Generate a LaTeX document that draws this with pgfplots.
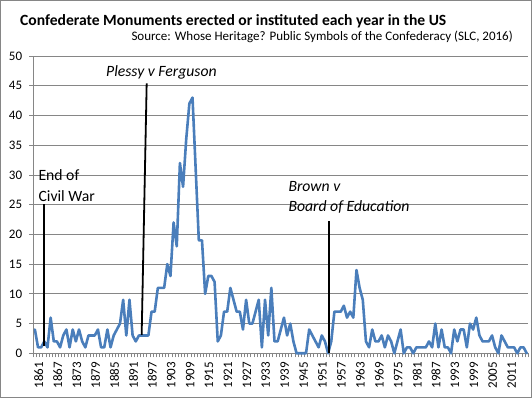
\documentclass[border=0pt]{standalone}
\usepackage{fontspec}
\setmainfont{Carlito}
\usepackage{pgfplots}
\usepackage{pgfplotstable}
\pgfplotsset{compat=1.18}
\definecolor{exblue}{HTML}{4A7EBB}
\definecolor{gridgray}{HTML}{868686}

\pgfplotstableread{
year v
1861 4
1862 1
1863 1
1864 2
1865 1
1866 6
1867 2
1868 2
1869 1
1870 3
1871 4
1872 1
1873 4
1874 2
1875 4
1876 2
1877 1
1878 3
1879 3
1880 3
1881 4
1882 1
1883 1
1884 4
1885 1
1886 3
1887 4
1888 5
1889 9
1890 3
1891 9
1892 3
1893 2
1894 3
1895 3
1896 3
1897 3
1898 7
1899 7
1900 11
1901 11
1902 11
1903 15
1904 13
1905 22
1906 18
1907 32
1908 28
1909 36
1910 42
1911 43
1912 31
1913 19
1914 19
1915 10
1916 13
1917 13
1918 12
1919 2
1920 3
1921 7
1922 7
1923 11
1924 9
1925 7
1926 7
1927 4
1928 9
1929 5
1930 5
1931 7
1932 9
1933 1
1934 9
1935 3
1936 11
1937 2
1938 2
1939 4
1940 6
1941 3
1942 5
1943 2
1944 0
1945 0
1946 0
1947 0
1948 4
1949 3
1950 2
1951 1
1952 3
1953 2
1954 0
1955 2
1956 7
1957 7
1958 7
1959 8
1960 6
1961 7
1962 6
1963 14
1964 11
1965 9
1966 2
1967 1
1968 4
1969 2
1970 2
1971 3
1972 1
1973 3
1974 2
1975 0
1976 2
1977 4
1978 0
1979 1
1980 1
1981 0
1982 1
1983 1
1984 1
1985 1
1986 2
1987 1
1988 5
1989 1
1990 4
1991 1
1992 1
1993 0
1994 4
1995 2
1996 4
1997 4
1998 1
1999 5
2000 4
2001 6
2002 3
2003 2
2004 2
2005 2
2006 3
2007 1
2008 0
2009 3
2010 2
2011 1
2012 1
2013 1
2014 0
2015 1
2016 1
2017 0
}\mydata

\begin{document}
\begin{tikzpicture}[x=1pt,y=1pt]
\path[use as bounding box] (0,0) rectangle (532,398);
\draw[gridgray, line width=1pt] (0.5,0.5) rectangle (531.5,397.5);
\node[anchor=base west, inner sep=0pt, font=\fontsize{15.6}{18}\selectfont\bfseries] at (20,372) {Confederate Monuments erected or instituted each year in the US};
\node[anchor=base east, inner sep=0pt, font=\fontsize{13}{15}\selectfont] at (513,357) {Source: Whose Heritage? Public Symbols of the Confederacy (SLC, 2016)};
\begin{axis}[
  at={(33.3pt,44.7pt)}, anchor=south west,
  scale only axis, width=495pt, height=297.3pt,
  xmin=1860.5, xmax=2017.5, ymin=0, ymax=50,
  clip=false,
  axis lines*=left,
  axis line style={gridgray, line width=0.8pt, -},
  ytick={0,5,...,50},
  ymajorgrids, grid style={gridgray, line width=0.8pt},
  xtick={1861,1867,...,2011},
  minor xtick={1860.5,1861.5,...,2017.5},
  tick align=outside,
  major tick length=4pt, minor tick length=4pt,
  major x tick style={draw=none},
  minor x tick style={gridgray, line width=0.8pt},
  major y tick style={gridgray, line width=0.8pt},
  /pgf/number format/assume math mode=true,
  /pgf/number format/1000 sep={},
  tick label style={font=\fontsize{13}{13}\selectfont, inner sep=0pt},
  xticklabel style={rotate=90, anchor=east, yshift=-3.9pt},
  xticklabel shift=4.5pt,
  yticklabel style={anchor=east},
  yticklabel shift=7pt,
]
\addplot[exblue, line width=2.6pt, line join=round, line cap=round] table[x=year, y=v] {\mydata};
\addplot[black, line width=1.8pt] coordinates {(1864,1.2) (1864,25.1)};
\addplot[black, line width=1.8pt] coordinates {(1894.87,3.1) (1896.46,45.4)};
\addplot[black, line width=1.8pt] coordinates {(1954.37,0) (1954.37,22.2)};
\node[anchor=base west, inner sep=0pt, font=\fontsize{15.7}{18}\selectfont] at (axis cs:1862.1,29.06) {End of};
\node[anchor=base west, inner sep=0pt, font=\fontsize{15.7}{18}\selectfont] at (axis cs:1862.1,25.5) {Civil War};
\node[anchor=base west, inner sep=0pt, font=\fontsize{15.7}{18}\selectfont\itshape] at (axis cs:1883.55,46.5) {Plessy v Ferguson};
\node[anchor=base west, inner sep=0pt, font=\fontsize{15.7}{18}\selectfont\itshape] at (axis cs:1941.4,27.2) {Brown v};
\node[anchor=base west, inner sep=0pt, font=\fontsize{15.7}{18}\selectfont\itshape] at (axis cs:1941.4,23.8) {Board of Education};
\end{axis}
\end{tikzpicture}
\end{document}
